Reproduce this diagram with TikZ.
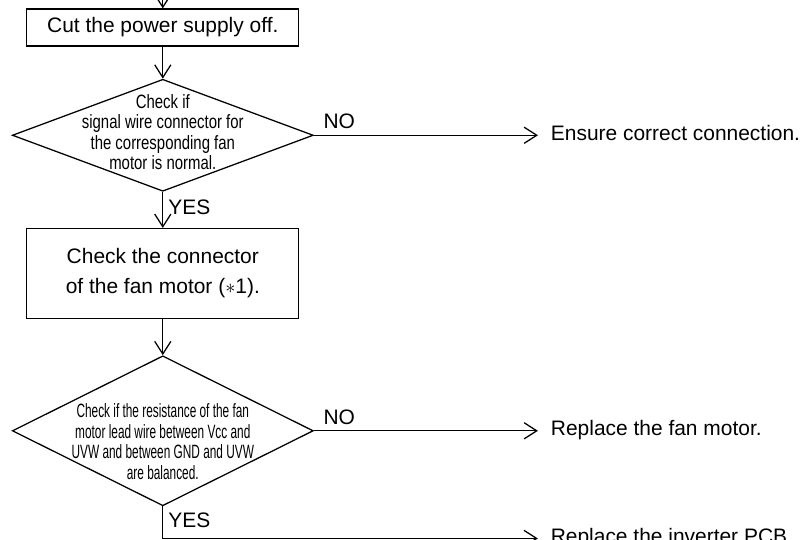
\documentclass[tikz,border=0pt]{standalone}
\usepackage{fontspec}
\setmainfont{Liberation Sans}
\newfontfamily\condfont[FakeStretch=0.775]{Liberation Sans}
\newfontfamily\narrowfont[FakeStretch=0.615]{Liberation Sans}
\usetikzlibrary{shapes,arrows.meta,positioning,calc}

\begin{document}
\begin{tikzpicture}[
    node distance=0.9cm,
    every node/.style={align=center},
    process/.style={rectangle, draw, line width=0.9pt, minimum width=6.8cm, inner sep=0pt, font=\fontsize{14.9pt}{21.3pt}\selectfont},
    decision/.style={diamond, draw, line width=0.9pt, minimum width=7.525cm, minimum height=2.8cm, inner sep=0pt},
    cond/.style={inner sep=0pt, font=\fontsize{13.7pt}{14.6pt}#1},
    result/.style={inner sep=0pt, outer sep=0.325cm, text height=0.72em, text depth=0pt, font=\fontsize{14.9pt}{21.3pt}\selectfont},
    lbl/.style={inner sep=0pt, text height=0.72em, text depth=0pt, font=\fontsize{14.9pt}{21.3pt}\selectfont},
    arrow/.style={line width=0.9pt, -{Straight Barb[length=9pt,width=11.5pt]}}
]
\useasboundingbox (0,0) rectangle (20.2,-13.475);

% Main column
\node[process, minimum height=0.925cm] (power_off) at (4.07,-0.6875) {Cut the power supply off.};
\coordinate[above=0.225cm of power_off] (start);
\node[decision, below=0.8cm of power_off] (check_signal) {};
\node[cond=\condfont, yshift=0.075cm] (signal_text) at (check_signal) {Check if\\signal wire connector for\\the corresponding fan\\motor is normal.};
\node[process, minimum height=2.25cm, below=of check_signal] (check_conn) {Check the connector\\of the fan motor ($\ast$1).};
\node[decision, minimum height=3.75cm, below=of check_conn] (check_res) {};
\node[cond=\narrowfont, yshift=-0.275cm] (res_text) at (check_res) {Check if the resistance of the fan\\motor lead wire between Vcc and\\UVW and between GND and UVW\\are balanced.};
\coordinate[below=0.8cm of check_res] (yes_corner);

% Results
\node[result, right=5.6cm of check_signal.east] (fix_conn) {Ensure correct connection.};
\node[result, right=5.6cm of check_res.east] (new_motor) {Replace the fan motor.};
\node[result, right=9.375cm of yes_corner] (new_pcb) {Replace the inverter PCB.};

% Connections
\draw[arrow] (start) -- (power_off);
\draw[arrow] (power_off) -- (check_signal);
\draw[arrow] (check_signal) -- node[lbl, anchor=south west, pos=0, xshift=0.225cm, yshift=0.15cm] (no_signal) {NO} (fix_conn);
\draw[arrow] (check_signal) -- node[lbl, right, inner xsep=0.125cm] (yes_signal) {YES} (check_conn);
\draw[arrow] (check_conn) -- (check_res);
\draw[arrow] (check_res) -- node[lbl, anchor=south west, pos=0, xshift=0.225cm, yshift=0.15cm] (no_res) {NO} (new_motor);
\draw[arrow] (check_res) -- node[lbl, right, inner xsep=0.125cm] (yes_res) {YES} (yes_corner) -- (new_pcb);

\end{tikzpicture}
\end{document}
